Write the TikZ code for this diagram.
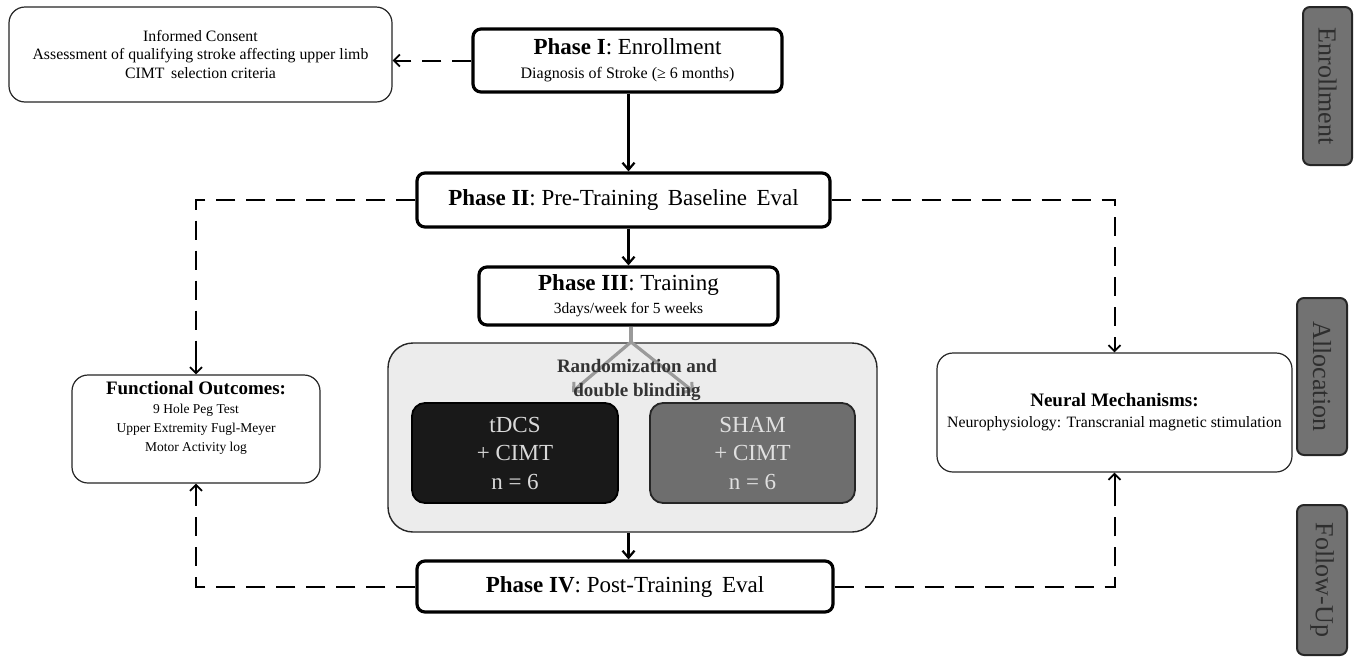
\documentclass[tikz,border=0pt]{standalone}
\usepackage{fontspec}
\setmainfont{Liberation Serif}
\usetikzlibrary{arrows.meta}
\definecolor{tabgray}{HTML}{727272}
\definecolor{tabtext}{HTML}{2E2E2E}
\definecolor{panel}{HTML}{ECECEC}
\definecolor{shamfill}{HTML}{6E6E6E}
\definecolor{ygray}{HTML}{9A9A9A}
\begin{document}
\begin{tikzpicture}[x=1pt,y=-1pt,
  phasebox/.style={draw=black,line width=3.2pt,rounded corners=8pt,fill=white,inner sep=0pt,align=center},
  sidebox/.style={draw=black!85,line width=1.2pt,rounded corners=16pt,fill=white,inner sep=0pt,align=center},
  tabbox/.style={draw=black!85,line width=2pt,rounded corners=7pt,fill=tabgray,inner sep=0pt,text=tabtext,rotate=-90,font=\fontsize{26}{30}\selectfont},
  armbox/.style={line width=1.8pt,rounded corners=13pt,inner sep=0pt,align=center,font=\fontsize{23}{28.5}\selectfont},
  solidarr/.style={line width=2.4pt,-{Straight Barb[length=7pt,width=12pt,line width=2.2pt]}},
  dashline/.style={line width=2pt,dash pattern=on 19pt off 11pt},
  dashtip/.style={line width=2pt,-{Straight Barb[length=6pt,width=12pt,line width=1.8pt]}},
  yarr/.style={line width=3.2pt,draw=ygray,-{Straight Barb[length=6pt,width=13pt,line width=3pt]}}]
\useasboundingbox (0,0) rectangle (1360,662);
\fill[white] (0,0) rectangle (1360,662);

% side tabs
\node[tabbox,minimum width=158pt,minimum height=49pt] (tab1) at (1327.5,86) {Enrollment};
\node[tabbox,minimum width=157pt,minimum height=50pt] (tab2) at (1322,376.5) {Allocation};
\node[tabbox,minimum width=150pt,minimum height=50pt] (tab3) at (1322,580) {Follow-Up};

% main phases
\node[phasebox,minimum width=309pt,minimum height=63pt,font=\fontsize{23}{24}\selectfont] (p1) at (627.5,60.5)
  {\textbf{Phase I}: Enrollment\\
   {\fontsize{16}{18}\selectfont Diagnosis of Stroke (≥ 6 months)}};
\node[phasebox,minimum width=413pt,minimum height=54pt] (p2) at (623.5,200)
  {\fontsize{23}{26}\selectfont\textbf{Phase II}: Pre-Training\, Baseline\, Eval};
\node[phasebox,minimum width=299pt,minimum height=58pt,font=\fontsize{23}{23}\selectfont] (p3) at (628.5,296)
  {\textbf{Phase III}: Training\\
   {\fontsize{15.5}{17}\selectfont 3days/week for 5 weeks}};

% randomization panel
\node[draw=black!85,line width=1.4pt,rounded corners=25pt,fill=panel,minimum width=489pt,minimum height=189pt,inner sep=0pt] (panel) at (632.5,437.5) {};
\coordinate (ysplit) at (631,342);
\coordinate (yleft) at (572,392);
\coordinate (yright) at (694,392);
\draw[line width=3.2pt,draw=ygray] (p3.south -| ysplit) -- (ysplit);
\draw[yarr] (ysplit) -- (yleft);
\draw[yarr] (ysplit) -- (yright);
\node[align=center,text=black!80,font=\bfseries\fontsize{19}{24}\selectfont] (rand) at (637,380) {Randomization and\\double blinding};
\node[armbox,fill=black!90,draw=black,text=white!85!black,minimum width=206pt,minimum height=100pt] (tdcs) at (515,453) {tDCS\\+ CIMT\\n = 6};
\node[armbox,fill=shamfill,draw=black!85,text=white!88!black,minimum width=205pt,minimum height=100pt] (sham) at (752.5,453) {SHAM\\+ CIMT\\n = 6};

\node[phasebox,minimum width=416pt,minimum height=51pt] (p4) at (625,586.5)
  {\fontsize{23}{26}\selectfont\textbf{Phase IV}: Post-Training\, Eval};

% side boxes
\node[sidebox,minimum width=383pt,minimum height=95pt,font=\fontsize{15.8}{18.5}\selectfont] (info) at (200.5,54.5)
  {Informed Consent\\Assessment of qualifying stroke affecting upper limb\\CIMT\, selection criteria};
\node[sidebox,minimum width=248pt,minimum height=108pt,font=\fontsize{13.5}{19}\selectfont] (func) at (196,429)
  {{\fontsize{19}{19}\selectfont\textbf{Functional Outcomes:}}\\9 Hole Peg Test\\Upper Extremity Fugl-Meyer\\Motor Activity log\\[6pt]};
\node[sidebox,minimum width=355pt,minimum height=119pt,font=\fontsize{15.8}{21}\selectfont] (neur) at (1114.5,412.5)
  {{\fontsize{19}{21}\selectfont\textbf{Neural Mechanisms:}}\\Neurophysiology: Transcranial magnetic stimulation};

% solid arrows
\draw[solidarr] (p1.south -| p3.south) -- (p2.north -| p3.south);
\draw[solidarr] (p2.south -| p3.south) -- (p3.north);
\draw[solidarr] (panel.south -| p3.south) -- (p4.north -| p3.south);

% dashed arrows (dashed run + short solid end with tip)
\coordinate (infoin) at ([xshift=14pt]info.east |- p1.west);
\draw[dashline] (p1.west) -- (infoin);
\draw[dashtip] (infoin) -- (info.east |- p1.west);

\coordinate (funcin) at ([yshift=14pt]func.north);
\draw[dashline] (p2.west) -| (funcin);
\draw[dashtip] (funcin) -- (func.north);

\coordinate (neurin) at ([yshift=14pt]neur.north);
\draw[dashline] (p2.east) -| (neurin);
\draw[dashtip] (neurin) -- (neur.north);

\coordinate (funcout) at ([yshift=-14pt]func.south);
\draw[dashline] (p4.west) -| (funcout);
\draw[dashtip] (funcout) -- (func.south);

\coordinate (neurout) at ([yshift=-14pt]neur.south);
\draw[dashline] (p4.east) -| (neurout);
\draw[dashtip] (neurout) -- (neur.south);
\end{tikzpicture}
\end{document}
